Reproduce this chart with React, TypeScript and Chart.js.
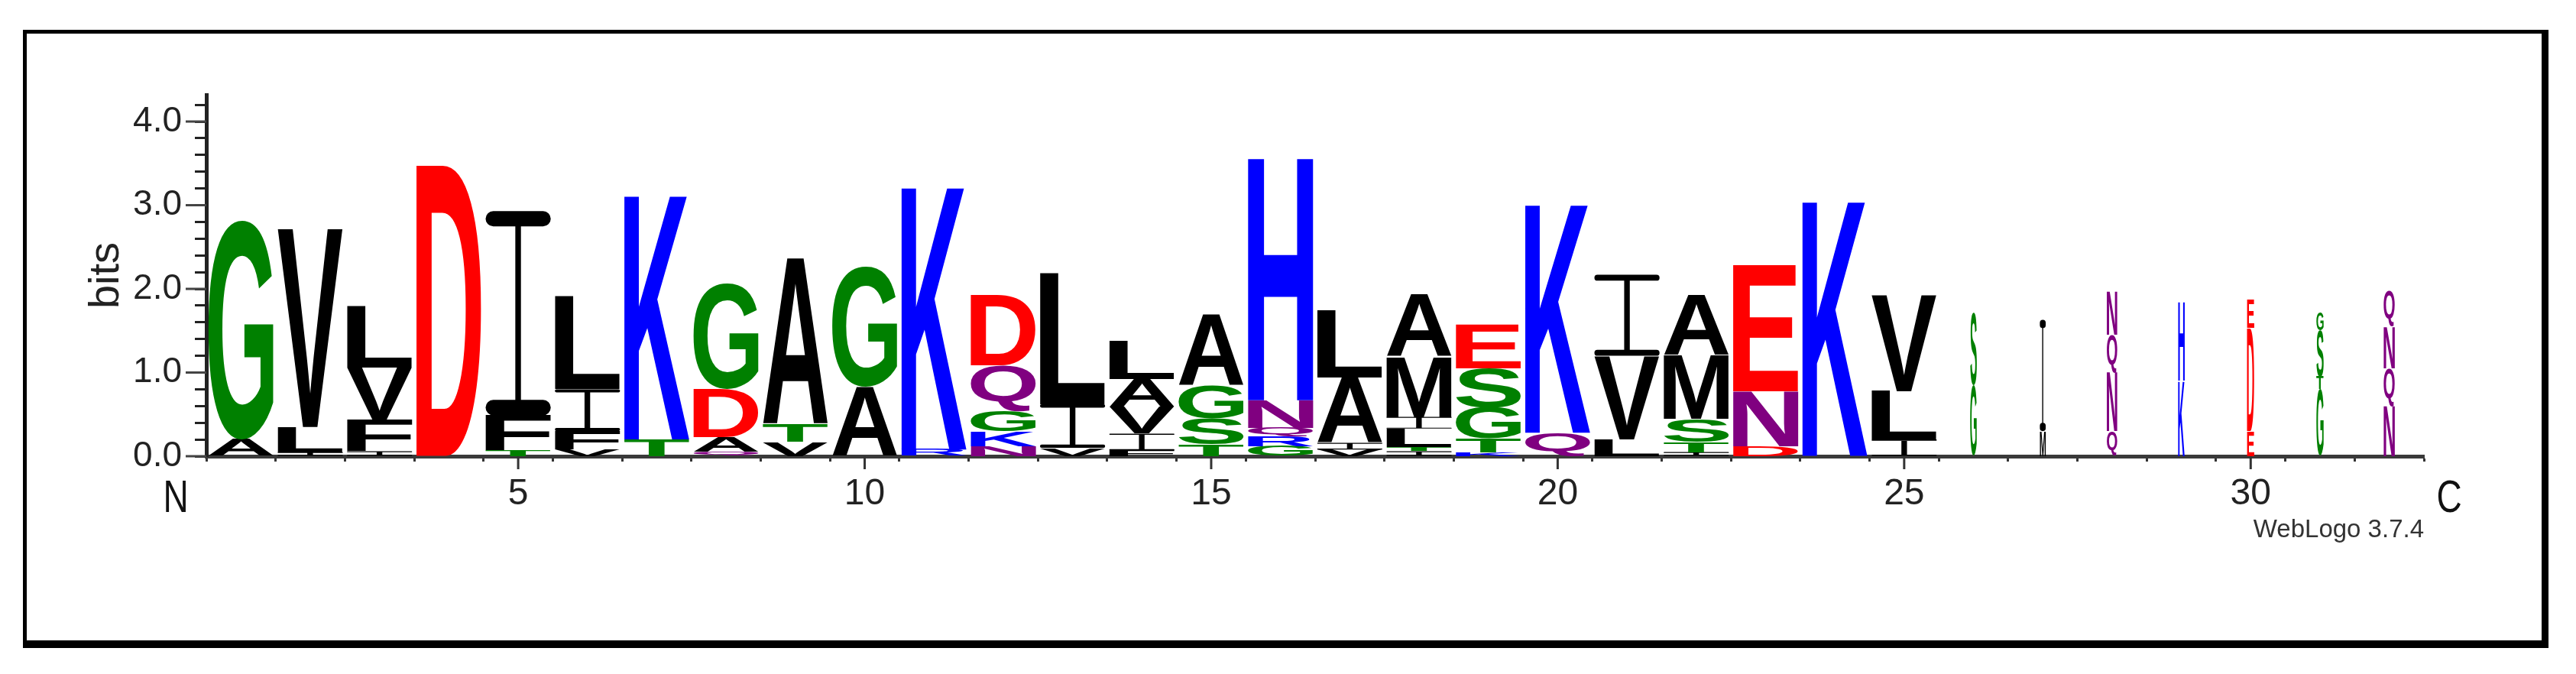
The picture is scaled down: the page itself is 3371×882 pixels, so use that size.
import React, { useEffect, useRef } from 'react';
import { Chart, registerables } from 'chart.js';

Chart.register(...registerables);

const positions = ['1','2','3','4','5','6','7','8','9','10','11','12','13','14','15','16','17','18','19','20','21','22','23','24','25','26','27','28','29','30','31','32'];
const xTickLabels = ['5', '10', '15', '20', '25', '30'];
const yTickLabels = ['0.0', '1.0', '2.0', '3.0', '4.0'];

// letters of each stack, bottom -> top
const stackLetters = [
  'AG', 'ILV', 'IFVL', 'D', 'TFI', 'VFIL', 'TK', 'QADG', 'VTA', 'AG',
  'RK', 'NKGQD', 'VIL', 'FIVAL', 'TSGA', 'GRQNH', 'VIAL', 'ITLIMA', 'KTGSE', 'QK',
  'LVI', 'ITSMA', 'DNE', 'K', 'ILV', 'GS', 'MI', 'QNQN', 'KH', 'EDE',
  'GTSG', 'NQNQ',
];
// heights in bits of each letter, bottom -> top
const stackBits = [
  [0.2, 2.62], [0.05, 0.3, 2.37], [0.06, 0.38, 0.62, 0.74], [3.48], [0.07, 0.42, 2.44],
  [0.08, 0.22, 0.5, 1.11], [0.2, 2.93], [0.05, 0.18, 0.57, 1.26], [0.17, 0.21, 1.99], [0.83, 1.43],
  [0.08, 3.15], [0.12, 0.18, 0.24, 0.55, 0.84], [0.1, 0.52, 1.57], [0.07, 0.2, 0.32, 0.33, 0.46], [0.14, 0.31, 0.39, 0.85],
  [0.12, 0.12, 0.1, 0.33, 2.91], [0.08, 0.08, 0.78, 0.81], [0.06, 0.05, 0.22, 0.14, 0.72, 0.74], [0.05, 0.16, 0.37, 0.47, 0.53], [0.28, 2.74],
  [0.2, 1.0, 0.97], [0.05, 0.12, 0.28, 0.76, 0.72], [0.12, 0.66, 1.51], [3.06], [0.2, 0.58, 1.15],
  [0.85, 0.87], [0.3, 1.33], [0.3, 0.7, 0.45, 0.52], [0.9, 0.94], [0.3, 1.23, 0.34],
  [0.8, 0.15, 0.55, 0.22], [0.6, 0.45, 0.5, 0.42],
];
// relative stack widths (fraction of non-gap sequences)
const stackWidths = [
  1, 1, 1, 1, 1, 1, 1, 1, 1, 1,
  1, 1, 1, 1, 1, 1, 1, 1, 1, 1,
  1, 1, 1, 1, 1, 0.1, 0.09, 0.16, 0.1, 0.11,
  0.11, 0.17,
];

const colorGroups: [string, string][] = [
  ['GSTYC', '#008000'],
  ['NQ', '#800080'],
  ['KRH', '#0000FF'],
  ['DE', '#FF0000'],
  ['PAWFLIMV', '#000000'],
];

const letterColor = (ch: string) => {
  for (const [set, c] of colorGroups) if (set.includes(ch)) return c;
  return '#000000';
};

const FONT = '"Liberation Sans", Arial, Helvetica, sans-serif';

function fillGlyph(ctx: CanvasRenderingContext2D, ch: string, color: string, rx: number, ry: number, rw: number, rh: number) {
  ctx.save();
  ctx.font = `bold 200px ${FONT}`;
  ctx.textAlign = 'left';
  ctx.textBaseline = 'alphabetic';
  const m = ctx.measureText(ch);
  const gw = m.actualBoundingBoxLeft + m.actualBoundingBoxRight;
  const gh = m.actualBoundingBoxAscent + m.actualBoundingBoxDescent;
  if (gw > 0 && gh > 0) {
    ctx.translate(rx, ry);
    ctx.scale(rw / gw, rh / gh);
    ctx.fillStyle = color;
    ctx.fillText(ch, m.actualBoundingBoxLeft, m.actualBoundingBoxAscent);
  }
  ctx.restore();
}

function drawGlyph(ctx: CanvasRenderingContext2D, ch: string, color: string, rx: number, ry: number, rw: number, rh: number) {
  if (ch !== 'I') {
    fillGlyph(ctx, ch, color, rx, ry, rw, rh);
    return;
  }
  // WebLogo's "I" has full-width serif bars and a thin stem
  const bar = Math.max(rh * 0.075, Math.min(rh * 0.3, 1.2));
  const stemW = Math.max(rw * 0.09, 1.5);
  fillGlyph(ctx, 'I', color, rx + (rw - stemW) / 2, ry + bar * 0.5, stemW, Math.max(rh - bar, 0.5));
  ctx.save();
  ctx.fillStyle = color;
  const r = Math.min(bar / 2, rw / 2);
  ctx.beginPath();
  (ctx as any).roundRect(rx, ry, rw, bar, r);
  (ctx as any).roundRect(rx, ry + rh - bar, rw, bar, r);
  ctx.fill();
  ctx.restore();
}

const logoPlugin = {
  id: 'logoLetters',
  afterDatasetsDraw(chart: any) {
    const ctx: CanvasRenderingContext2D = chart.ctx;
    chart.data.datasets.forEach((_ds: any, di: number) => {
      const meta = chart.getDatasetMeta(di);
      meta.data.forEach((el: any, i: number) => {
        const ch = stackLetters[i][di];
        if (!ch) return;
        const { x, y, base, width } = el.getProps(['x', 'y', 'base', 'width'], true);
        const h = base - y;
        if (h < 0.5) return;
        const w = width * stackWidths[i];
        drawGlyph(ctx, ch, letterColor(ch), x - w / 2, y, w, h);
      });
    });
  },
  afterDraw(chart: any) {
    const ctx: CanvasRenderingContext2D = chart.ctx;
    const xs = chart.scales.x;
    const ys = chart.scales.y;
    const area = chart.chartArea;
    ctx.save();
    // longer major ticks on the y axis
    ctx.strokeStyle = '#444';
    ctx.lineWidth = 3;
    yTickLabels.forEach((lab) => {
      const py = ys.getPixelForValue(parseFloat(lab));
      ctx.beginPath();
      ctx.moveTo(area.left - 27, py);
      ctx.lineTo(area.left, py);
      ctx.stroke();
    });
    // longer major ticks on the x axis
    ctx.strokeStyle = '#333';
    xTickLabels.forEach((lab) => {
      const px = xs.getPixelForValue(positions.indexOf(lab));
      ctx.beginPath();
      ctx.moveTo(px, area.bottom);
      ctx.lineTo(px, area.bottom + 17);
      ctx.stroke();
    });
    // N / C ends
    ctx.fillStyle = '#111';
    ctx.font = `46px ${FONT}`;
    ctx.textAlign = 'center';
    ctx.textBaseline = 'alphabetic';
    const drawStretched = (t: string, cx: number, base: number) => {
      ctx.save();
      ctx.translate(cx, base);
      ctx.scale(1, 1.27);
      ctx.fillText(t, 0, 0);
      ctx.restore();
    };
    drawStretched('N', area.left - 40, 670);
    drawStretched('C', area.right + 33, 670);
    // version tag
    ctx.fillStyle = '#333';
    ctx.font = `33px ${FONT}`;
    ctx.textAlign = 'right';
    ctx.fillText('WebLogo 3.7.4', area.right, 703);
    ctx.restore();
  },
};

export default function App() {
  const ref = useRef<HTMLCanvasElement | null>(null);

  useEffect(() => {
    if (!ref.current) return;
    const layers = Math.max(...stackLetters.map((s) => s.length));
    const datasets = Array.from({ length: layers }, (_, k) => ({
      label: `layer ${k + 1}`,
      data: stackBits.map((b) => (b[k] !== undefined ? b[k] : null)),
      backgroundColor: 'rgba(0,0,0,0)',
      borderWidth: 0,
      stack: 'logo',
      barPercentage: 0.94,
      categoryPercentage: 1,
    }));

    const chart = new Chart(ref.current, {
      type: 'bar',
      data: { labels: positions, datasets },
      options: {
        responsive: false,
        animation: false,
        devicePixelRatio: 1,
        layout: { padding: { top: 124, right: 199, bottom: 0, left: 0 } },
        plugins: { legend: { display: false }, tooltip: { enabled: false } },
        scales: {
          x: {
            type: 'category',
            stacked: true,
            offset: true,
            grid: { display: true, drawOnChartArea: false, drawTicks: true, tickLength: 7, tickWidth: 3, tickColor: '#333' },
            border: { display: true, color: '#3a3a3a', width: 5 },
            ticks: {
              autoSkip: false,
              maxRotation: 0,
              padding: 14,
              color: '#222',
              font: { family: FONT, size: 48 },
              callback: (_v: any, i: number) => (xTickLabels.includes(positions[i]) ? positions[i] : ''),
            },
            afterFit: (s: any) => { s.height = 882 - 597; },
          },
          y: {
            type: 'linear',
            stacked: true,
            min: 0,
            max: 4.32,
            grid: { display: true, drawOnChartArea: false, drawTicks: true, tickLength: 15, tickWidth: 3, tickColor: '#222' },
            border: { display: true, color: '#222', width: 5 },
            title: { display: true, text: 'bits', color: '#222', font: { family: FONT, size: 56 }, padding: { top: 106, bottom: 0 } },
            ticks: {
              stepSize: 0.2,
              includeBounds: false,
              autoSkip: false,
              padding: 17,
              color: '#222',
              font: { family: FONT, size: 46 },
              callback: (v: any) => {
                const s = Number(v).toFixed(1);
                return yTickLabels.includes(s) ? s : '';
              },
            },
            afterFit: (s: any) => { s.width = 270; },
          },
        },
      },
      plugins: [logoPlugin],
    } as any);
    return () => chart.destroy();
  }, []);

  return (
    <div>
      <div
        style={{
          position: 'fixed', left: 30, top: 39, width: 3305, height: 809, boxSizing: 'border-box',
          borderStyle: 'solid', borderColor: '#000', borderWidth: '5px 9px 10px 5px', background: '#fff',
        }}
      />
      <canvas
        ref={ref}
        width={3371}
        height={882}
        style={{ position: 'fixed', left: 0, top: 0, width: 3371, height: 882 }}
      />
    </div>
  );
}
